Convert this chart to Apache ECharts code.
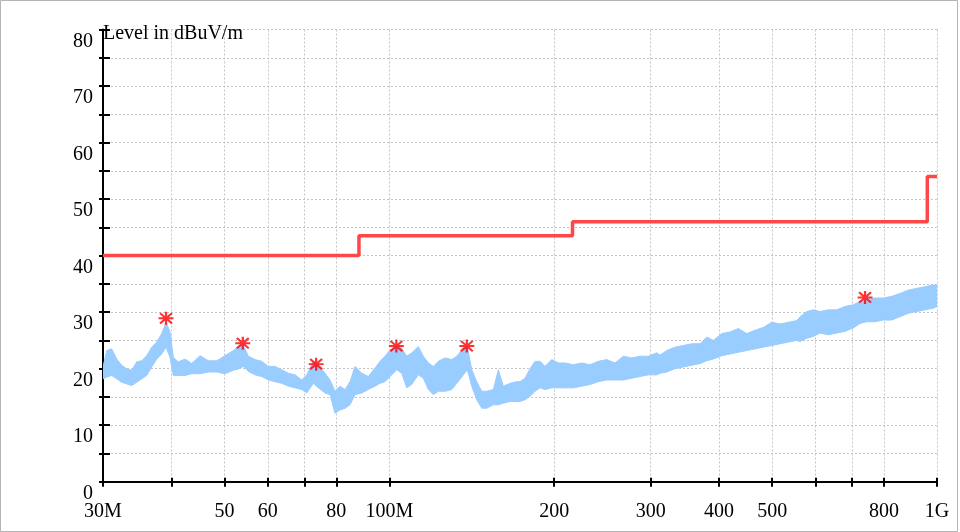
<!DOCTYPE html>
<html>
<head>
<meta charset="utf-8">
<style>
html,body{margin:0;padding:0;background:#fff;}
#chart{width:960px;height:532px;}
</style>
<script src="https://cdn.jsdelivr.net/npm/echarts@6/dist/echarts.min.js"></script>
</head>
<body>
<div id="chart"></div>
<script>
// ---------- data (frequency in MHz, level in dBuV/m) ----------
const bandFreq = [30.0,30.47,31.12,31.78,32.45,33.14,33.85,34.57,35.30,36.05,36.82,37.60,38.40,39.10,39.76,40.32,41.17,42.35,43.56,45.11,46.71,48.39,50.11,51.89,53.22,
  54.12,55.27,56.85,58.47,60.12,61.84,63.60,65.39,67.26,69.18,70.65,72.64,74.18,76.30,77.92,79.58,81.27,83.00,84.76,86.56,89.03,91.54,94.15,
  96.16,98.20,100.29,103.15,105.34,107.58,109.87,112.96,115.36,117.81,120.31,122.87,126.38,129.99,132.75,136.49,138.80,141.40,144.40,147.47,150.60,154.84,158.13,161.49,166.10,170.85,
  173.24,176.92,180.68,184.52,188.44,192.44,197.94,203.51,209.33,216.76,224.55,232.53,240.79,249.45,258.31,267.48,277.10,286.94,297.13,307.82,
  312.1,321.0,332.4,344.2,356.6,369.3,379.8,390.5,404.6,419.0,433.8,449.4,465.4,481.9,499.2,517.0,535.3,554.6,
  562.3,578.4,594.7,611.7,633.4,656.2,679.5,703.6,723.7,744.4,770.8,798.2,826.9,856.3,886.7,918.5,951.2,984.9,1000];
const bandHigh = [20.3,23.2,23.5,21.7,20.6,20.0,19.7,21.2,21.4,22.3,23.8,24.7,26.2,28.2,26.5,22.0,21.2,21.7,20.9,22.3,21.4,21.4,22.3,23.2,24.1,
  24.2,22.2,21.6,21.3,20.4,20.4,19.8,19.2,18.9,18.0,18.9,21.3,20.7,19.2,18.0,16.0,16.9,16.3,17.7,20.4,19.2,18.6,20.1,
  21.3,22.2,23.3,24.1,23.6,22.2,22.8,23.9,22.2,21.0,20.4,21.3,21.9,21.6,22.2,23.6,23.9,19.8,17.7,16.0,16.0,16.3,19.8,16.9,17.4,17.7,
  17.7,18.3,20.0,21.3,21.3,20.4,21.6,21.0,21.0,20.7,21.0,20.7,21.3,21.6,21.0,22.2,21.9,22.2,22.2,22.8,
  22.4,23.2,23.8,24.1,24.4,24.4,25.6,25.0,26.2,26.5,27.1,26.2,26.8,27.3,28.2,27.9,28.2,28.5,
  29.2,30.1,30.4,30.1,30.4,30.4,31.0,31.3,31.9,32.2,32.5,32.5,32.8,33.3,33.9,34.2,34.5,34.8,34.8];
const bandLow = [18.2,18.5,18.8,18.2,17.6,17.3,17.0,17.6,18.2,18.8,20.3,21.7,22.6,23.8,22.0,18.8,18.8,18.8,19.1,19.1,19.4,19.4,19.1,19.7,20.0,
  20.4,19.5,18.9,18.6,18.0,17.7,17.4,16.9,16.6,16.3,15.7,17.4,16.6,15.7,15.4,12.1,12.7,13.0,13.6,15.4,15.7,16.3,16.9,
  17.4,17.7,18.6,19.8,19.2,16.6,17.2,18.9,18.3,16.3,15.4,16.0,16.0,16.3,17.4,18.9,19.8,16.9,14.5,13.0,13.0,13.6,13.6,13.9,14.2,14.2,
  14.2,14.5,15.1,16.0,16.6,16.3,16.6,16.6,16.6,16.6,16.9,17.2,17.7,18.0,18.0,18.0,18.3,18.6,18.9,18.9,
  19.2,19.4,20.0,20.3,20.6,20.9,21.4,21.7,22.3,22.6,22.9,23.2,23.5,23.8,24.1,24.4,24.7,25.0,
  24.8,25.4,25.7,26.3,26.0,26.3,26.6,27.2,28.0,28.3,28.3,28.6,28.6,29.2,29.8,30.1,30.4,30.7,31.0];

const limitFreq  = [30, 88, 88, 216, 216, 960, 960, 1000];
const limitLevel = [40, 40, 43.5, 43.5, 46, 46, 54, 54];

const peakFreq  = [39.1, 54.0, 73.5, 103.0, 138.5, 739];
const peakLevel = [28.9, 24.5, 20.8, 24.0, 24.0, 32.6];

const xTickFreqs  = [30, 40, 50, 60, 70, 80, 100, 200, 300, 400, 500, 600, 700, 800, 1000];
const xLabelFreqs = [30, 50, 60, 80, 100, 200, 300, 400, 500, 800, 1000];
const xLabelText  = {30: '30M', 100: '100M', 1000: '1G'};
const yLabelValues = [0, 10, 20, 30, 40, 50, 60, 70, 80];
const yAxisTitle = 'Level in dBuV/m';

// ---------- chart ----------
const FONT = 'Liberation Serif';
const lg = v => Math.log10(v);
const LOG_MIN = lg(30), LOG_MAX = lg(1000);
const tickVals = xTickFreqs.map(lg);
const labelVals = xLabelFreqs.map(lg);
const fmtX = v => { const f = Math.round(Math.pow(10, v)); return xLabelText[f] || String(f); };

const chart = echarts.init(document.getElementById('chart'), null, {renderer: 'canvas'});
const gridLineStyle = {color: '#c4c4c4', width: 1, type: [2, 2]};
const blue = '#99ccff';

const bandData = bandFreq.map((f, i) => [lg(f), bandHigh[i], bandLow[i]]);

chart.setOption({
  animation: false,
  backgroundColor: '#fff',
  grid: {left: 103, right: 23, top: 29.5, bottom: 50.3, containLabel: false, outerBoundsMode: 'none'},
  graphic: [{
    type: 'rect', silent: true, z: -10,
    shape: {x: 0.5, y: 0.5, width: 957, height: 531},
    style: {fill: 'none', stroke: '#b4b4b4', lineWidth: 1}
  }],
  xAxis: [{
    type: 'value', min: LOG_MIN, max: LOG_MAX, position: 'bottom',
    axisLine: {show: true, onZero: false, lineStyle: {color: '#000', width: 2}},
    axisTick: {show: true, inside: true, length: 4, customValues: tickVals, lineStyle: {color: '#000', width: 2}},
    axisLabel: {customValues: labelVals, formatter: fmtX, margin: 20, color: '#000', fontFamily: FONT, fontSize: 20, verticalAlign: 'top'},
    splitLine: {show: true, lineStyle: gridLineStyle}
  }, {
    type: 'value', min: LOG_MIN, max: LOG_MAX, position: 'bottom',
    axisLine: {show: false, onZero: false},
    axisTick: {show: true, inside: false, length: 5, customValues: tickVals, lineStyle: {color: '#000', width: 2}},
    axisLabel: {show: false}, splitLine: {show: false}
  }],
  yAxis: [{
    type: 'value', min: 0, max: 80, interval: 5, position: 'left',
    name: yAxisTitle, nameLocation: 'end', nameGap: -4,
    nameTextStyle: {align: 'left', verticalAlign: 'middle', color: '#000', fontFamily: FONT, fontSize: 20, padding: [0, 0, 0, 0]},
    axisLine: {show: true, onZero: false, lineStyle: {color: '#000', width: 2}},
    axisTick: {show: true, inside: true, length: 7, lineStyle: {color: '#000', width: 2}},
    axisLabel: {customValues: yLabelValues, margin: 10, color: '#000', fontFamily: FONT, fontSize: 20, verticalAlign: 'top', padding: [2, 0, 0, 0]},
    splitLine: {show: true, lineStyle: gridLineStyle}
  }, {
    type: 'value', min: 0, max: 80, interval: 5, position: 'left',
    axisLine: {show: false, onZero: false},
    axisTick: {show: true, inside: false, length: 4, lineStyle: {color: '#000', width: 2}},
    axisLabel: {show: false}, splitLine: {show: false}
  }],
  series: [{
    name: 'Level', type: 'custom', silent: true, z: 2, clip: true,
    data: bandData,
    encode: {x: 0, y: [1, 2]},
    renderItem: function (params, api) {
      if (params.dataIndex !== 0) return null;
      const top = bandData.map(d => api.coord([d[0], d[1]]));
      const bot = bandData.map(d => api.coord([d[0], d[2]])).reverse();
      return {
        type: 'polygon',
        shape: {points: top.concat(bot)},
        style: {fill: blue, stroke: blue, lineWidth: 1}
      };
    }
  }, {
    name: 'Limit', type: 'line', symbol: 'none', silent: true, z: 3,
    lineStyle: {color: '#ff4747', width: 3.5},
    data: limitFreq.map((f, i) => [lg(f), limitLevel[i]])
  }, {
    name: 'Peaks', type: 'scatter', z: 5,
    symbol: 'path://M0 8.5L20 8.5L20 11.5L0 11.5ZM8.5 0L11.5 0L11.5 20L8.5 20ZM3.1 1L19 16.9L16.9 19L1 3.1ZM16.9 1L19 3.1L3.1 19L1 16.9Z',
    symbolSize: [15, 13],
    itemStyle: {color: '#ff0000'},
    data: peakFreq.map((f, i) => [lg(f), peakLevel[i]])
  }]
});
</script>
</body>
</html>
